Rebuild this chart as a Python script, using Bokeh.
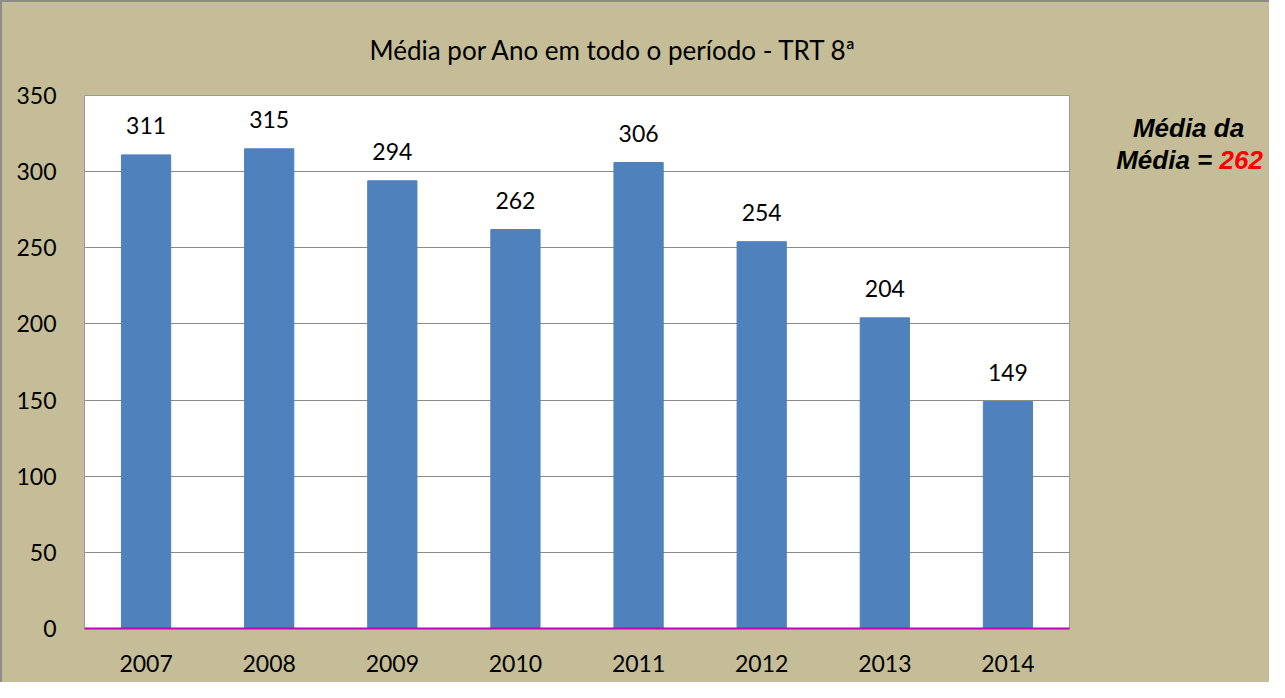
from bokeh.plotting import figure
from bokeh.models import ColumnDataSource, FactorRange, Range1d, FixedTicker
from bokeh.layouts import row
from bokeh.core.properties import value
from bokeh.embed import file_html
from bokeh.resources import INLINE

years = ["2007", "2008", "2009", "2010", "2011", "2012", "2013", "2014"]
medias = [311, 315, 294, 262, 306, 254, 204, 149]
y_ticks = [0, 50, 100, 150, 200, 250, 300, 350]
title_text = "Média por Ano em todo o período - TRT 8ª"
note_line1 = "Média da"
note_line2 = "Média = "
note_value = "262"

BG = "#C4BD97"
BAR = "#4F81BD"
FONT = "Lato"
H = 682
TOP, BOTTOM = 95, 54

src = ColumnDataSource(dict(x=years, top=medias, lbl=[str(v) for v in medias]))

p = figure(width=1077, height=H, output_backend="svg", toolbar_location=None,
           x_range=FactorRange(*years, range_padding=0), y_range=Range1d(0, 350),
           min_border_left=84, min_border_top=TOP, min_border_right=8, min_border_bottom=BOTTOM)
p.background_fill_color = "white"
p.border_fill_color = None
p.outline_line_color = "#9a9a9a"
p.outline_line_width = 1

p.title.text = title_text
p.title.align = "left"
p.title.offset = 285
p.title.standoff = 60
p.title.text_font = FONT
p.title.text_font_style = "normal"
p.title.text_font_size = "26px"
p.title.text_color = "black"

p.vbar(x="x", top="top", width=0.4, source=src, fill_color=BAR, line_color=BAR)
p.text(x="x", y="top", text="lbl", source=src, text_align="center", text_baseline="bottom",
       y_offset=-21, text_font=value(FONT), text_font_size="23px", text_color="black")

p.xgrid.grid_line_color = None
p.ygrid.grid_line_color = "#8a8a8a"
p.ygrid.grid_line_width = 1
p.yaxis.ticker = FixedTicker(ticks=y_ticks)
p.yaxis.axis_line_color = None
p.yaxis.major_tick_line_color = None
p.yaxis.minor_tick_line_color = None
p.yaxis.major_label_standoff = 22
p.yaxis.major_label_text_font = FONT
p.yaxis.major_label_text_font_size = "23px"
p.yaxis.major_label_text_color = "black"

p.xaxis.axis_line_color = "#C000C0"
p.xaxis.axis_line_width = 2
p.xaxis.major_tick_line_color = None
p.xaxis.minor_tick_line_color = None
p.xaxis.major_label_standoff = 20
p.xaxis.major_label_text_font = FONT
p.xaxis.major_label_text_font_size = "23px"
p.xaxis.major_label_text_color = "black"

# side panel with the "Média da Média" note; data units = pixels from the canvas bottom-left
NW = 1269 - 1077
q = figure(width=NW, height=H, output_backend="svg", toolbar_location=None,
           x_range=Range1d(0, NW), y_range=Range1d(BOTTOM, H - TOP),
           min_border_left=0, min_border_right=0, min_border_top=TOP, min_border_bottom=BOTTOM)
q.axis.visible = False
q.grid.grid_line_color = None
q.outline_line_color = None
q.background_fill_color = None
q.border_fill_color = None
note_font = value("Liberation Sans")
q.text(x=[111], y=[H - 127], text=[note_line1], text_align="center", text_baseline="middle",
       text_font=note_font, text_font_style="bold italic", text_font_size="26px", text_color="black")
q.text(x=[142], y=[H - 159], text=[note_line2], text_align="right", text_baseline="middle",
       text_font=note_font, text_font_style="bold italic", text_font_size="26px", text_color="black")
q.text(x=[142], y=[H - 159], text=[note_value], text_align="left", text_baseline="middle",
       text_font=note_font, text_font_style="bold italic", text_font_size="26px", text_color="#FF0000")

layout = row(p, q, spacing=0,
             styles={"background-color": BG, "box-shadow": "inset 2px 2px 0 0 #8c8c8c"})
open("out.html", "w").write(file_html(layout, INLINE))
